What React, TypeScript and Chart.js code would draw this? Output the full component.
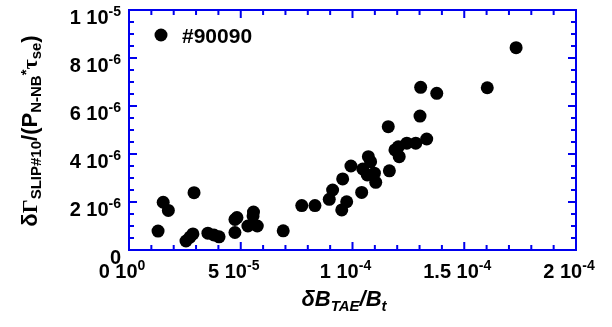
import React, { useEffect, useRef } from 'react';
import { Chart, registerables } from 'chart.js';

Chart.register(...registerables);

// ---- data ----
const xValues = [
  1.30e-5, 1.53e-5, 1.76e-5, 2.91e-5, 2.55e-5, 2.73e-5, 2.86e-5, 3.53e-5, 3.80e-5, 4.03e-5,
  4.74e-5, 4.74e-5, 4.83e-5, 5.57e-5, 5.55e-5, 5.32e-5, 5.74e-5, 6.90e-5, 7.73e-5, 8.32e-5,
  8.96e-5, 9.11e-5, 9.56e-5, 9.74e-5, 9.52e-5, 9.93e-5, 10.41e-5, 10.46e-5, 10.71e-5, 10.81e-5,
  10.66e-5, 10.98e-5, 11.04e-5, 11.65e-5, 11.90e-5, 12.09e-5, 12.05e-5, 12.43e-5, 12.83e-5, 13.32e-5,
  11.60e-5, 13.02e-5, 13.05e-5, 13.77e-5, 16.03e-5, 17.32e-5,
];
const yValues = [
  0.79e-6, 1.99e-6, 1.65e-6, 2.39e-6, 0.375e-6, 0.54e-6, 0.67e-6, 0.70e-6, 0.625e-6, 0.55e-6,
  0.73e-6, 1.27e-6, 1.35e-6, 1.58e-6, 1.42e-6, 1.00e-6, 1.00e-6, 0.80e-6, 1.85e-6, 1.85e-6,
  2.11e-6, 2.50e-6, 2.96e-6, 2.01e-6, 1.67e-6, 3.50e-6, 2.40e-6, 3.375e-6, 3.89e-6, 3.68e-6,
  3.125e-6, 3.20e-6, 2.82e-6, 3.30e-6, 4.17e-6, 3.89e-6, 4.30e-6, 4.45e-6, 4.45e-6, 4.625e-6,
  5.14e-6, 5.58e-6, 6.78e-6, 6.53e-6, 6.76e-6, 8.43e-6,
];
const seriesName = '#90090';

const xMin = 0;
const xMax = 2e-4;
const yMin = 0;
const yMax = 1e-5;
const xMajorTicks = [0, 5e-5, 1e-4, 1.5e-4, 2e-4];
const xTickMantissa = ['0', '5', '1', '1.5', '2'];
const xTickExponent = ['0', '-5', '-4', '-4', '-4'];
const xMinorStep = 1e-5;
const yMajorTicks = [0, 2e-6, 4e-6, 6e-6, 8e-6, 1e-5];
const yTickMantissa = ['0', '2', '4', '6', '8', '1'];
const yTickExponent = ['', '-6', '-6', '-6', '-6', '-5'];
const yMinorStep = 5e-7;

// ---- drawing helpers ----
const FAMILY = '"Liberation Sans", Arial, Helvetica, sans-serif';
const SERIF = '"Liberation Serif", "DejaVu Serif", serif';
const BLUE = '#0000ee';

type Seg = { t: string; size: number; dy: number; italic?: boolean; serif?: boolean };

function fontOf(s: Seg) {
  return `${s.italic ? 'italic ' : ''}bold ${s.size}px ${s.serif ? SERIF : FAMILY}`;
}

function segWidth(ctx: CanvasRenderingContext2D, segs: Seg[]) {
  let w = 0;
  for (const s of segs) {
    ctx.font = fontOf(s);
    w += ctx.measureText(s.t).width;
  }
  return w;
}

function drawSegs(
  ctx: CanvasRenderingContext2D,
  segs: Seg[],
  x: number,
  y: number,
  align: 'left' | 'center' | 'right'
) {
  const w = segWidth(ctx, segs);
  let cx = align === 'left' ? x : align === 'center' ? x - w / 2 : x - w;
  ctx.textAlign = 'left';
  ctx.textBaseline = 'alphabetic';
  for (const s of segs) {
    ctx.font = fontOf(s);
    ctx.fillText(s.t, cx, y + s.dy);
    cx += ctx.measureText(s.t).width;
  }
  return w;
}

const MAIN = 20;
const SUP = 14;

function tickSegs(m: string, e: string): Seg[] {
  if (!e) return [{ t: m, size: MAIN, dy: 0 }];
  return [
    { t: `${m} 10`, size: MAIN, dy: 0 },
    { t: e, size: SUP, dy: -8 },
  ];
}

const framePlugin = {
  id: 'framePlugin',
  afterDraw(chart: any) {
    const ctx: CanvasRenderingContext2D = chart.ctx;
    const { left, right, top, bottom } = chart.chartArea;
    const xs = chart.scales.x;
    const ys = chart.scales.y;
    ctx.save();

    // frame
    ctx.strokeStyle = BLUE;
    ctx.lineWidth = 2;
    ctx.strokeRect(left, top, right - left, bottom - top);

    // x ticks (bottom & top, inward)
    const nx = Math.round((xMax - xMin) / xMinorStep);
    ctx.beginPath();
    for (let i = 0; i <= nx; i++) {
      const v = xMin + i * xMinorStep;
      const px = xs.getPixelForValue(v);
      const len = i % 5 === 0 ? 8 : 5;
      ctx.moveTo(px, bottom);
      ctx.lineTo(px, bottom - len);
      ctx.moveTo(px, top);
      ctx.lineTo(px, top + len);
    }
    // y ticks (left & right, inward)
    const ny = Math.round((yMax - yMin) / yMinorStep);
    for (let i = 0; i <= ny; i++) {
      const v = yMin + i * yMinorStep;
      const py = ys.getPixelForValue(v);
      const len = i % 4 === 0 ? 8 : 5;
      ctx.moveTo(left, py);
      ctx.lineTo(left + len, py);
      ctx.moveTo(right, py);
      ctx.lineTo(right - len, py);
    }
    ctx.stroke();

    ctx.fillStyle = '#000';
    // y tick labels
    yMajorTicks.forEach((v, i) => {
      const py = ys.getPixelForValue(v);
      drawSegs(ctx, tickSegs(yTickMantissa[i], yTickExponent[i]), left - 8, py + 14, 'right');
    });
    // x tick labels
    xMajorTicks.forEach((v, i) => {
      const px = xs.getPixelForValue(v);
      const segs = tickSegs(xTickMantissa[i], xTickExponent[i]);
      const w = segWidth(ctx, segs);
      let x0 = px - 7 - w / 2;
      if (x0 < 96) x0 = 96;
      drawSegs(ctx, segs, x0, bottom + 28, 'left');
    });

    // x title
    drawSegs(
      ctx,
      [
        { t: 'δB', size: 22, dy: 0, italic: true },
        { t: 'TAE', size: 15, dy: 5, italic: true },
        { t: '/B', size: 22, dy: 0, italic: true },
        { t: 't', size: 15, dy: 5, italic: true },
      ],
      344,
      bottom + 56,
      'center'
    );

    // y title (rotated)
    ctx.save();
    ctx.translate(37, (top + bottom) / 2 + 1);
    ctx.rotate(-Math.PI / 2);
    drawSegs(
      ctx,
      [
        { t: 'δ', size: 22, dy: 0 },
        { t: 'Γ', size: 22, dy: 0, serif: true },
        { t: 'SLIP#10', size: 15, dy: 4 },
        { t: '/(P', size: 22, dy: 0 },
        { t: 'N-NB', size: 15, dy: 4 },
        { t: '*', size: 15, dy: -6 },
        { t: 'τ', size: 22, dy: 0, serif: true },
        { t: 'se', size: 15, dy: 4 },
        { t: ')', size: 22, dy: 0 },
      ],
      0,
      0,
      'center'
    );
    ctx.restore();

    // legend
    ctx.beginPath();
    ctx.arc(161, 35, 6.5, 0, Math.PI * 2);
    ctx.fill();
    drawSegs(ctx, [{ t: seriesName, size: 21, dy: 0 }], 182, 43, 'left');

    ctx.restore();
  },
};

export default function App() {
  const ref = useRef<HTMLCanvasElement | null>(null);
  useEffect(() => {
    if (!ref.current) return;
    const chart = new Chart(ref.current, {
      type: 'scatter',
      data: {
        datasets: [
          {
            label: seriesName,
            data: xValues.map((x, i) => ({ x, y: yValues[i] })),
            backgroundColor: '#000',
            borderColor: '#000',
            pointRadius: 6.5,
            pointBorderWidth: 0,
            pointHoverRadius: 6.5,
          },
        ],
      },
      options: {
        animation: false,
        responsive: false,
        maintainAspectRatio: false,
        layout: { padding: { left: 129, top: 10, right: 36, bottom: 77 } },
        plugins: { legend: { display: false }, tooltip: { enabled: false } },
        events: [],
        scales: {
          x: { type: 'linear', min: xMin, max: xMax, display: false },
          y: { type: 'linear', min: yMin, max: yMax, display: false },
        },
      },
      plugins: [framePlugin],
    });
    return () => chart.destroy();
  }, []);
  return (
    <div style={{ position: 'absolute', left: 0, top: 0, width: 612, height: 327, background: '#fff' }}>
      <canvas ref={ref} width={612} height={327} style={{ width: 612, height: 327 }} />
    </div>
  );
}
